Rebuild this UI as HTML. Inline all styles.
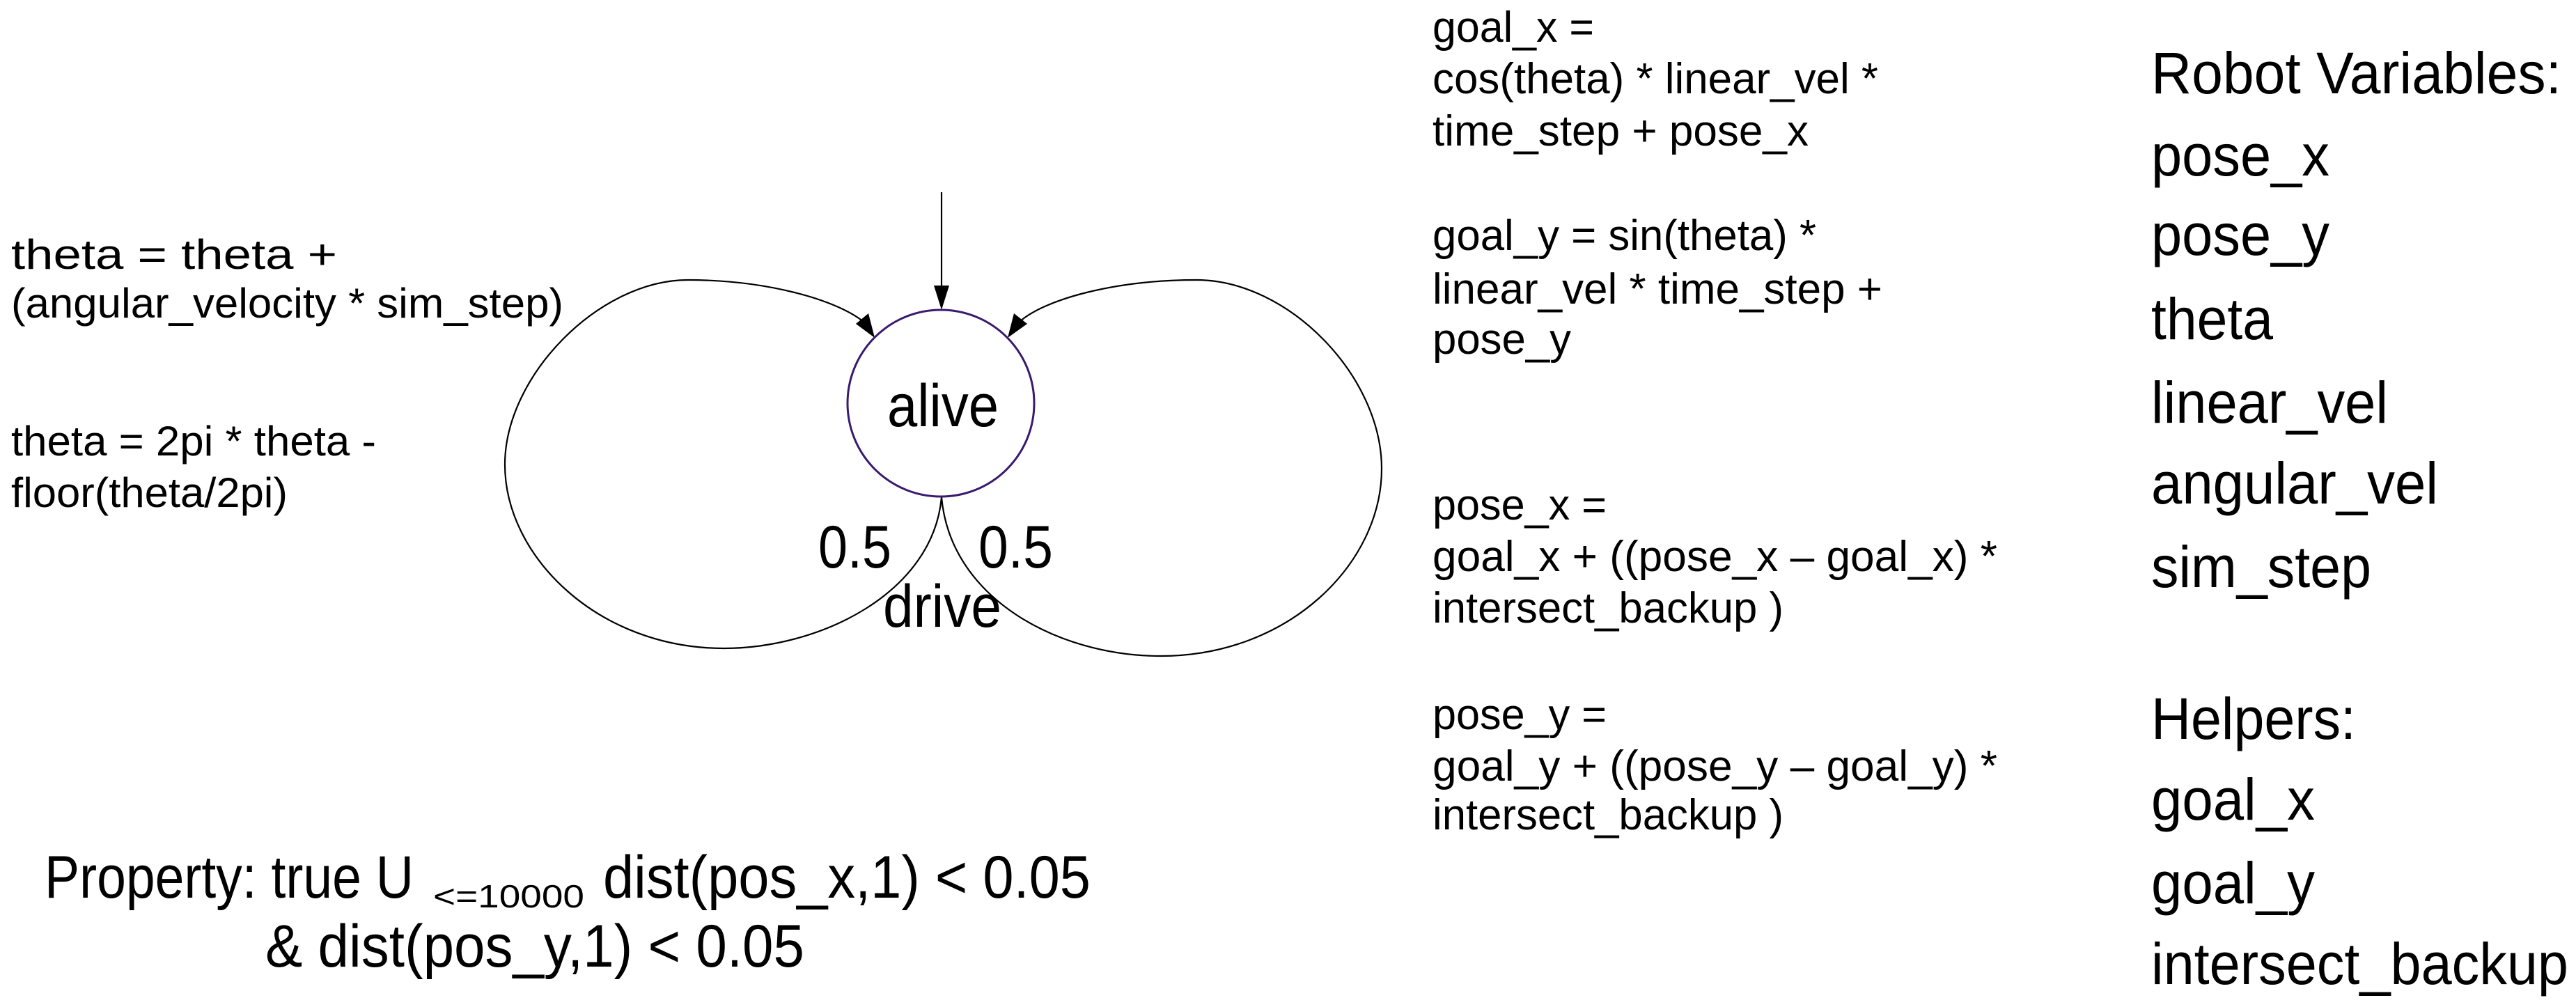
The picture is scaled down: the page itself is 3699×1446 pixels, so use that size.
<!DOCTYPE html>
<html><head><meta charset="utf-8"><style>html,body{margin:0;padding:0;background:#fff}svg{display:block}</style></head>
<body>
<svg width="3699" height="1446" viewBox="0 0 3699 1446" xmlns="http://www.w3.org/2000/svg" font-family="Liberation Sans, sans-serif" fill="#000">
<g fill="none" stroke="#000" stroke-width="2.2">
<line x1="1352" y1="276" x2="1352" y2="412"/>
<path d="M1352,714 C1340,850 1180,931 1039,931 C860,931 725,800 725,667 C725,540 860,402 988,402 C1100,402 1200,430 1240,462"/>
<path d="M1352,714 C1365,860 1520,942 1667,942 C1850,942 1984,810 1984,673 C1984,540 1850,402 1718,402 C1600,402 1500,430 1464,462"/>
</g>
<polygon points="1352,445 1341,410 1363,410" fill="#000"/>
<polygon points="1256,485 1229,465 1247,450" fill="#000"/>
<polygon points="1447,485 1456,450 1475,465" fill="#000"/>
<circle cx="1351" cy="579" r="134" fill="none" stroke="#3a1a6e" stroke-width="3"/>
<g font-size="86">
<text x="1274" y="612" textLength="160" lengthAdjust="spacingAndGlyphs">alive</text>
<text x="1175" y="815" textLength="105" lengthAdjust="spacingAndGlyphs">0.5</text>
<text x="1405" y="815" textLength="107" lengthAdjust="spacingAndGlyphs">0.5</text>
<text x="1268" y="900" textLength="170" lengthAdjust="spacingAndGlyphs">drive</text>
</g>
<g font-size="60">
<text x="16" y="386" textLength="468" lengthAdjust="spacingAndGlyphs">theta = theta +</text>
<text x="16" y="456" textLength="793" lengthAdjust="spacingAndGlyphs">(angular_velocity * sim_step)</text>
<text x="16" y="654" textLength="524" lengthAdjust="spacingAndGlyphs">theta = 2pi * theta -</text>
<text x="16" y="728" textLength="397" lengthAdjust="spacingAndGlyphs">floor(theta/2pi)</text>
</g>
<g font-size="62">
<text x="2057" y="60" textLength="232" lengthAdjust="spacingAndGlyphs">goal_x =</text>
<text x="2057" y="134" textLength="640" lengthAdjust="spacingAndGlyphs">cos(theta) * linear_vel *</text>
<text x="2057" y="209" textLength="540" lengthAdjust="spacingAndGlyphs">time_step + pose_x</text>
<text x="2057" y="359" textLength="551" lengthAdjust="spacingAndGlyphs">goal_y = sin(theta) *</text>
<text x="2057" y="436" textLength="646" lengthAdjust="spacingAndGlyphs">linear_vel * time_step +</text>
<text x="2057" y="508" textLength="199" lengthAdjust="spacingAndGlyphs">pose_y</text>
<text x="2057" y="746" textLength="250" lengthAdjust="spacingAndGlyphs">pose_x =</text>
<text x="2057" y="820" textLength="811" lengthAdjust="spacingAndGlyphs">goal_x + ((pose_x – goal_x) *</text>
<text x="2057" y="894" textLength="504" lengthAdjust="spacingAndGlyphs">intersect_backup )</text>
<text x="2057" y="1047" textLength="250" lengthAdjust="spacingAndGlyphs">pose_y =</text>
<text x="2057" y="1121" textLength="811" lengthAdjust="spacingAndGlyphs">goal_y + ((pose_y – goal_y) *</text>
<text x="2057" y="1191" textLength="504" lengthAdjust="spacingAndGlyphs">intersect_backup )</text>
</g>
<g font-size="84">
<text x="3089" y="134" textLength="589" lengthAdjust="spacingAndGlyphs">Robot Variables:</text>
<text x="3089" y="252" textLength="256" lengthAdjust="spacingAndGlyphs">pose_x</text>
<text x="3089" y="366" textLength="256" lengthAdjust="spacingAndGlyphs">pose_y</text>
<text x="3089" y="487" textLength="175" lengthAdjust="spacingAndGlyphs">theta</text>
<text x="3089" y="607" textLength="340" lengthAdjust="spacingAndGlyphs">linear_vel</text>
<text x="3089" y="723" textLength="412" lengthAdjust="spacingAndGlyphs">angular_vel</text>
<text x="3089" y="843" textLength="316" lengthAdjust="spacingAndGlyphs">sim_step</text>
<text x="3089" y="1061" textLength="294" lengthAdjust="spacingAndGlyphs">Helpers:</text>
<text x="3089" y="1177" textLength="235" lengthAdjust="spacingAndGlyphs">goal_x</text>
<text x="3089" y="1297" textLength="235" lengthAdjust="spacingAndGlyphs">goal_y</text>
<text x="3089" y="1413" textLength="599" lengthAdjust="spacingAndGlyphs">intersect_backup</text>
</g>
<g font-size="86">
<text x="64" y="1289" textLength="530" lengthAdjust="spacingAndGlyphs">Property: true U</text>
<text x="622" y="1303" font-size="46" textLength="217" lengthAdjust="spacingAndGlyphs">&lt;=10000</text>
<text x="866" y="1289" textLength="700" lengthAdjust="spacingAndGlyphs">dist(pos_x,1) &lt; 0.05</text>
<text x="381" y="1388" textLength="774" lengthAdjust="spacingAndGlyphs">&amp; dist(pos_y,1) &lt; 0.05</text>
</g>
</svg>
</body></html>
